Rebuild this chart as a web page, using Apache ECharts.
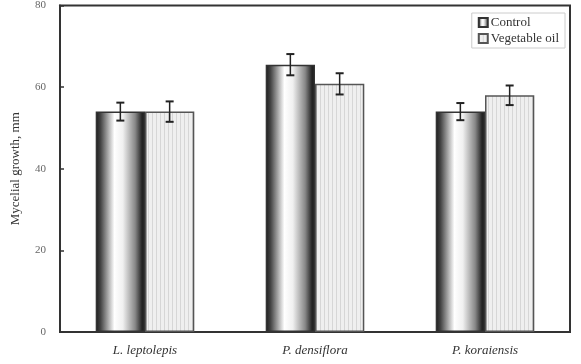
<!DOCTYPE html>
<html>
<head>
<meta charset="utf-8">
<script src="https://cdn.jsdelivr.net/npm/echarts@6/dist/echarts.min.js"></script>
<style>
  html, body { margin: 0; padding: 0; background: #fff; }
  #chart { width: 581px; height: 364px; }
</style>
</head>
<body>
<div id="chart"></div>
<script>
const categories = ['L. leptolepis', 'P. densiflora', 'P. koraiensis'];
const controlValues = [54.0, 65.5, 54.0];
const controlErrors = [2.2, 2.6, 2.1];
const oilValues = [54.0, 60.8, 58.0];
const oilErrors = [2.5, 2.6, 2.4];
const yTicks = [0, 20, 40, 60, 80];

const serif = '"Liberation Serif", "DejaVu Serif", serif';
const barFrac = 0.29; // bar width as share of a category band

// striped fill for the vegetable oil bars
function stripePattern() {
  const c = document.createElement('canvas');
  c.width = 4;
  c.height = 4;
  const ctx = c.getContext('2d');
  ctx.fillStyle = '#efefef';
  ctx.fillRect(0, 0, 4, 4);
  ctx.fillStyle = '#d6d6d6';
  ctx.fillRect(0, 0, 1, 4);
  return c;
}

const controlFill = new echarts.graphic.LinearGradient(0, 0, 1, 0, [
  { offset: 0, color: '#1a1a1a' },
  { offset: 0.1, color: '#444' },
  { offset: 0.38, color: '#ffffff' },
  { offset: 0.55, color: '#f0f0f0' },
  { offset: 0.8, color: '#888' },
  { offset: 0.93, color: '#2a2a2a' },
  { offset: 1, color: '#111' }
]);

function errorSeries(values, errors, side) {
  return {
    type: 'custom',
    silent: true,
    z: 5,
    data: values.map((v, i) => [i, v, errors[i]]),
    renderItem: (params, api) => {
      const i = api.value(0);
      const band = api.size([1, 0])[0];
      const x = api.coord([i, 0])[0] + side * band * barFrac / 2;
      const top = api.coord([i, api.value(1) + api.value(2)])[1];
      const bot = api.coord([i, api.value(1) - api.value(2)])[1];
      const cap = 4;
      const style = { stroke: '#222', lineWidth: 1.5 };
      return {
        type: 'group',
        children: [
          { type: 'line', shape: { x1: x, y1: top, x2: x, y2: bot }, style },
          { type: 'line', shape: { x1: x - cap, y1: top, x2: x + cap, y2: top }, style: { stroke: '#222', lineWidth: 2 } },
          { type: 'line', shape: { x1: x - cap, y1: bot, x2: x + cap, y2: bot }, style: { stroke: '#222', lineWidth: 2 } }
        ]
      };
    }
  };
}

const myChart = echarts.init(document.getElementById('chart'));

const option = {
  animation: false,
  grid: {
    left: 60, right: 11, top: 5, bottom: 32,
    show: true, borderColor: '#333', borderWidth: 2
  },
  legend: {
    orient: 'vertical',
    right: 16,
    top: 13,
    padding: [3, 6],
    itemGap: 3,
    itemWidth: 9,
    itemHeight: 9,
    borderColor: '#ccc',
    borderWidth: 1,
    icon: 'rect',
    textStyle: { fontFamily: serif, fontSize: 13, color: '#333', padding: [0, 0, 0, -2] },
    data: ['Control', 'Vegetable oil']
  },
  xAxis: {
    type: 'category',
    data: categories,
    axisLine: { lineStyle: { color: '#333', width: 2 } },
    axisTick: { show: false },
    axisLabel: {
      margin: 12,
      fontFamily: serif,
      fontStyle: 'italic',
      fontSize: 13,
      color: '#333'
    }
  },
  yAxis: {
    type: 'value',
    min: yTicks[0],
    max: yTicks[yTicks.length - 1],
    interval: yTicks[1] - yTicks[0],
    name: 'Mycelial growth, mm',
    nameLocation: 'middle',
    nameGap: 38,
    nameTextStyle: { fontFamily: serif, fontSize: 13, color: '#333' },
    axisLine: { show: true, lineStyle: { color: '#333', width: 2 } },
    axisTick: { show: true, inside: true, length: 4, lineStyle: { color: '#333', width: 1.5 } },
    axisLabel: { fontFamily: serif, fontSize: 11, color: '#666', margin: 14 },
    splitLine: { show: false }
  },
  series: [
    {
      name: 'Control',
      type: 'bar',
      data: controlValues,
      barWidth: (barFrac * 100) + '%',
      barGap: '0%',
      itemStyle: { color: controlFill, borderColor: '#333', borderWidth: 1.5 }
    },
    {
      name: 'Vegetable oil',
      type: 'bar',
      data: oilValues,
      barWidth: (barFrac * 100) + '%',
      barGap: '0%',
      itemStyle: {
        color: { image: stripePattern(), repeat: 'repeat' },
        borderColor: '#555',
        borderWidth: 1.5
      }
    },
    errorSeries(controlValues, controlErrors, -1),
    errorSeries(oilValues, oilErrors, 1)
  ]
};

myChart.setOption(option);
</script>
</body>
</html>
